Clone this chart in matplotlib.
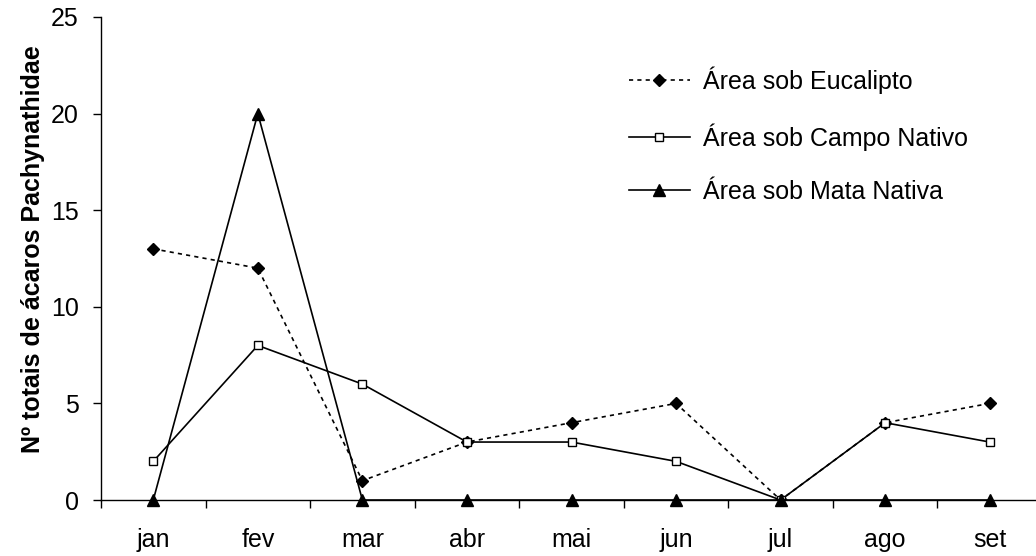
import matplotlib
matplotlib.use("Agg")
import matplotlib.pyplot as plt
import numpy as np

plt.rcParams['font.family'] = ['Liberation Sans', 'DejaVu Sans']

months = ["jan", "fev", "mar", "abr", "mai", "jun", "jul", "ago", "set"]
eucalipto = [13, 12, 1, 3, 4, 5, 0, 4, 5]
campo = [2, 8, 6, 3, 3, 2, 0, 4, 3]
mata = [0, 20, 0, 0, 0, 0, 0, 0, 0]
labels = ["Área sob Eucalipto", "Área sob Campo Nativo", "Área sob Mata Nativa"]
yticks = [0, 5, 10, 15, 20, 25]

FS = 18
fig = plt.figure(figsize=(10.36, 5.56), dpi=100)
ax = fig.add_axes([101/1036, 56/556, (1042-101)/1036, (539-56)/556])
x = np.arange(len(months))

ax.plot(x, eucalipto, color='black', lw=1.2, linestyle=(0, (2.5, 2.5)), marker='D',
        markersize=6, markerfacecolor='black', markeredgecolor='black', label=labels[0], zorder=3)
ax.plot(x, campo, color='black', lw=1.2, linestyle='-', marker='s',
        markersize=6, markerfacecolor='white', markeredgecolor='black', markeredgewidth=1.0,
        label=labels[1], zorder=4)
ax.plot(x, mata, color='black', lw=1.2, linestyle='-', marker='^',
        markersize=8, markerfacecolor='black', markeredgecolor='black', label=labels[2], zorder=5,
        clip_on=False)

ax.set_xlim(-0.5, len(months) - 0.5)
ax.set_ylim(0, 25)
ax.set_yticks(yticks)
ax.set_yticklabels([str(v) for v in yticks], fontsize=FS)
ax.set_xticks(x)
ax.set_xticklabels(months, fontsize=FS)
ax.set_xticks(np.arange(-0.5, len(months), 1.0), minor=True)
ax.tick_params(axis='x', which='major', length=0, pad=20)
ax.tick_params(axis='x', which='minor', length=6, width=1, direction='out', color='black')
ax.tick_params(axis='y', which='major', length=6, width=1, direction='out', pad=10)

for s in ['top', 'right']:
    ax.spines[s].set_visible(False)
ax.spines['left'].set_linewidth(1)
ax.spines['bottom'].set_linewidth(1)

ax.set_ylabel("Nº totais de ácaros Pachynathidae", fontsize=FS, fontweight='bold')
ax.yaxis.set_label_coords(-0.0595, 0.52)

leg = ax.legend(loc='upper left', bbox_to_anchor=(0.537, 0.944), frameon=False, fontsize=FS,
                handlelength=2.45, handletextpad=0.5, labelspacing=1.16)

fig.savefig("out.png", dpi=100)
